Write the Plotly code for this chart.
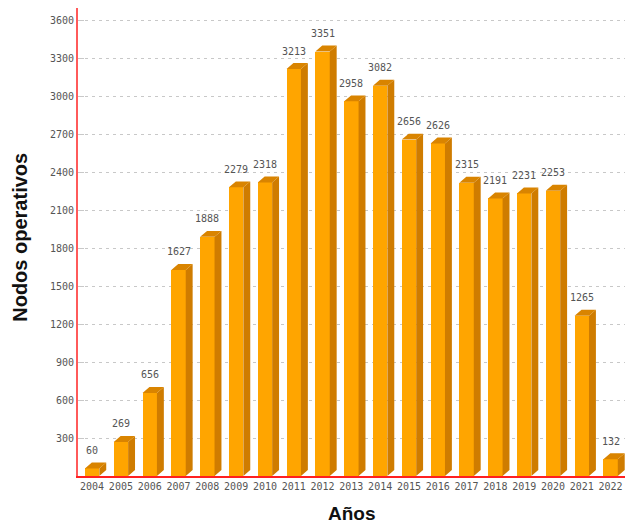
import plotly.graph_objects as go

# Operational nodes per year
years = ["2004", "2005", "2006", "2007", "2008", "2009", "2010", "2011", "2012", "2013",
         "2014", "2015", "2016", "2017", "2018", "2019", "2020", "2021", "2022"]
nodes = [60, 269, 656, 1627, 1888, 2279, 2318, 3213, 3351, 2958,
         3082, 2656, 2626, 2315, 2191, 2231, 2253, 1265, 132]
y_ticks = list(range(300, 3601, 300))

FRONT = "#FFA500"
SIDE = "#CF7C00"
TOP = "#D98400"

bar_w = 0.5      # width of the front face in category units
depth_x = 0.24   # 3D depth offset, category units
depth_y = 47.0   # 3D depth offset, value units

xs = list(range(len(years)))

# side and top faces built from the values, one polygon per bar
side_x, side_y, top_x, top_y = [], [], [], []
for x, v in zip(xs, nodes):
    r = x + bar_w / 2
    l = x - bar_w / 2
    side_x += [r, r + depth_x, r + depth_x, r, r, None]
    side_y += [0, depth_y, v + depth_y, v, 0, None]
    top_x += [l, r, r + depth_x, l + depth_x, l, None]
    top_y += [v, v, v + depth_y, v + depth_y, v, None]

fig = go.Figure()
fig.add_trace(go.Bar(x=xs, y=nodes, width=bar_w, marker=dict(color=FRONT, line=dict(width=0)),
                     hoverinfo="skip"))
fig.add_trace(go.Scatter(x=side_x, y=side_y, mode="lines", fill="toself", fillcolor=SIDE,
                         line=dict(width=0, color=SIDE), hoverinfo="skip"))
fig.add_trace(go.Scatter(x=top_x, y=top_y, mode="lines", fill="toself", fillcolor=TOP,
                         line=dict(width=0, color=TOP), hoverinfo="skip"))

# value labels above each bar's back edge
value_labels = [
    dict(x=x, y=v + depth_y, xref="x", yref="y", text=str(v), showarrow=False,
         xanchor="center", yanchor="middle", yshift=12,
         font=dict(family="DejaVu Sans Mono", size=10, color="#555555"))
    for x, v in zip(xs, nodes)
]

plot_l, plot_r, plot_t, plot_b = 78, 625, 8, 476.5
pw = plot_r - plot_l
ph = plot_b - plot_t

titles = [
    dict(text="<b>Nodos operativos</b>", textangle=-90, xref="paper", yref="paper",
         x=(20 - plot_l) / pw, y=(plot_b - 238) / ph, xanchor="center", yanchor="middle",
         showarrow=False, font=dict(family="Liberation Sans", size=20, color="#111111")),
    dict(text="<b>Años</b>", xref="paper", yref="paper",
         x=(352 - plot_l) / pw, y=(plot_b - 514) / ph, xanchor="center", yanchor="middle",
         showarrow=False, font=dict(family="Liberation Sans", size=19, color="#111111")),
]

fig.update_layout(
    width=625, height=525, autosize=False,
    margin=dict(l=plot_l, r=625 - plot_r, t=plot_t, b=525 - plot_b),
    paper_bgcolor="white", plot_bgcolor="white",
    showlegend=False, bargap=0,
    xaxis=dict(range=[-0.49, 18.5], tickmode="array", tickvals=xs, ticktext=years,
               showgrid=False, zeroline=False, showline=True, linecolor="#FF2020", linewidth=2,
               ticks="", tickfont=dict(family="DejaVu Sans Mono", size=10, color="#555555"),
               fixedrange=True),
    yaxis=dict(range=[0, 3695], tickmode="array", tickvals=y_ticks,
               showgrid=True, gridcolor="#C8C8C8", gridwidth=1, griddash="3px,4px",
               zeroline=False, showline=True, linecolor="#FF5A5A", linewidth=2,
               ticks="inside", ticklen=6, tickcolor="#C8C8C8",
               tickfont=dict(family="DejaVu Sans Mono", size=10, color="#555555"),
               fixedrange=True),
    annotations=value_labels + titles,
)

fig.write_html("out.html")
